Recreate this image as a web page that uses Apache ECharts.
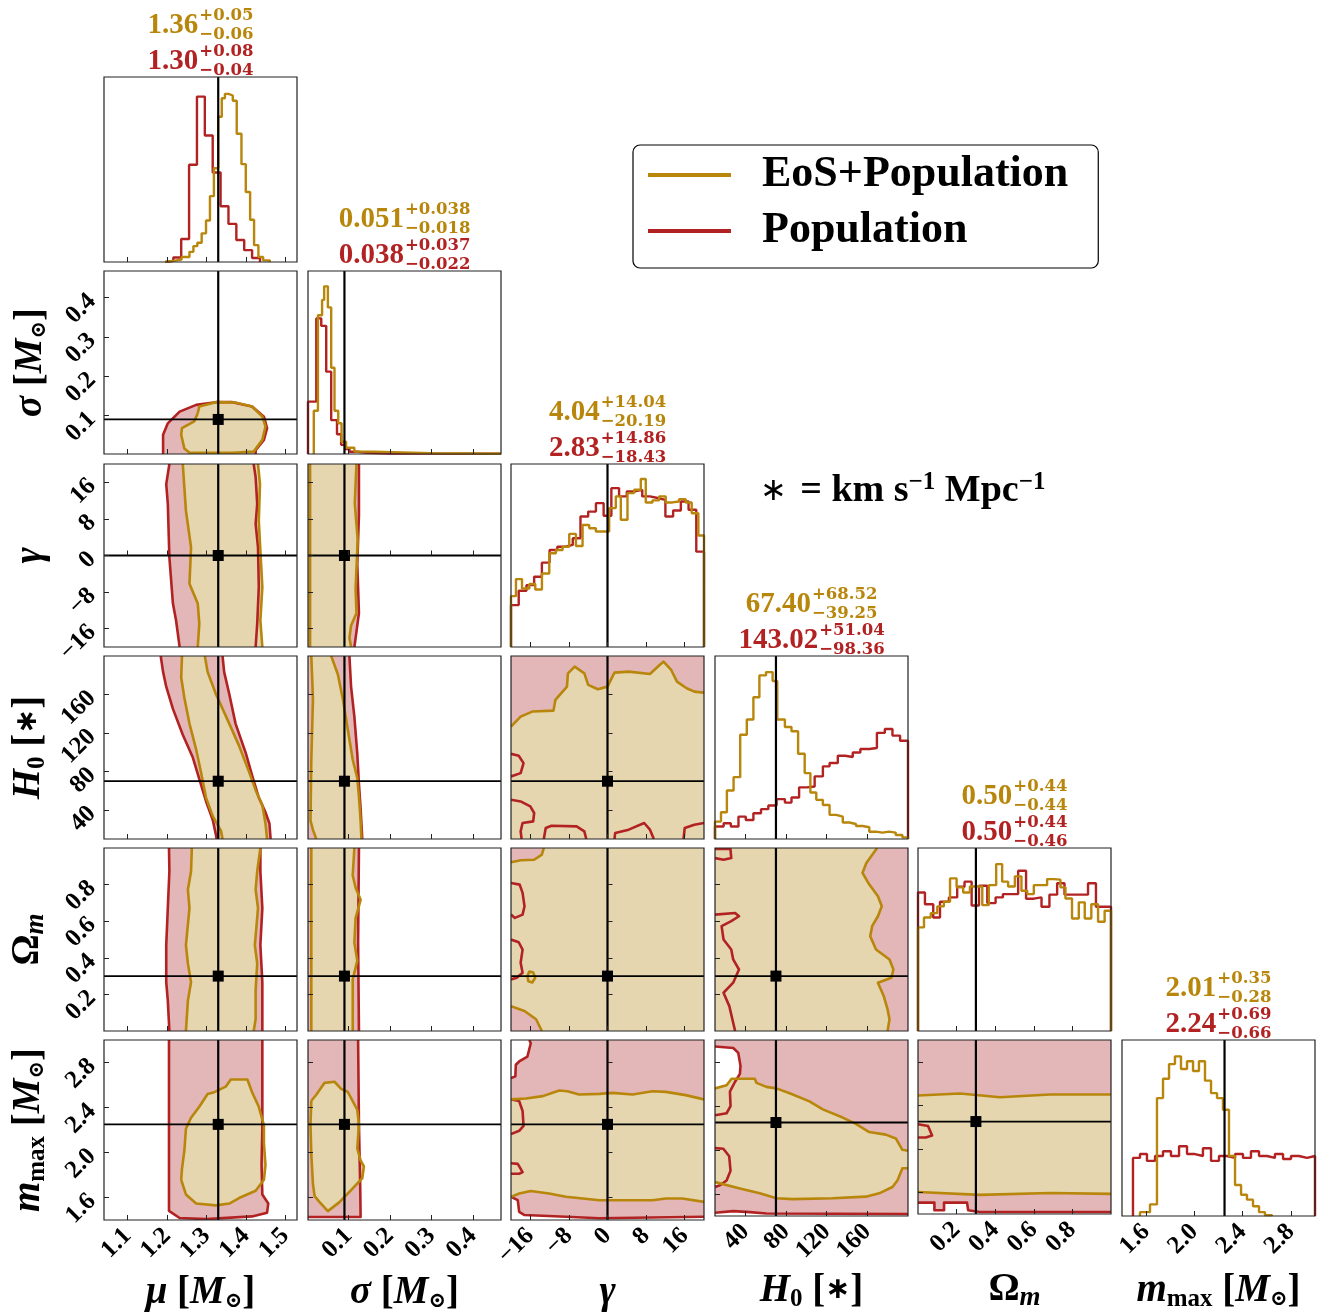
<!DOCTYPE html>
<html><head><meta charset="utf-8">
<script src="https://cdn.jsdelivr.net/npm/echarts@6/dist/echarts.min.js"></script>
<style>html,body{margin:0;padding:0;background:#fff}#c{width:1320px;height:1313px}</style>
</head><body><div id="c"></div>
<script>
// ---------------- DATA ----------------
const paramKeys = ['mu','sigma','gamma','H0','Om','mmax'];
const rangeMu = [1.04, 1.53], rangeSigma = [0.002, 0.468], rangeGamma = [-20, 20],
      rangeH0 = [10, 200], rangeOm = [0, 1], rangeMmax = [1.4, 3.0];
const truthValues = [1.33, 0.09, 0, 70, 0.3, 2.25];
const ticksMu = [1.1, 1.2, 1.3, 1.4, 1.5];
const ticksSigma = [0.1, 0.2, 0.3, 0.4];
const ticksGamma = [-16, -8, 0, 8, 16];
const ticksH0 = [40, 80, 120, 160];
const ticksOm = [0.2, 0.4, 0.6, 0.8];
const ticksMmax = [1.6, 2.0, 2.4, 2.8];

const seriesNames = ['EoS+Population', 'Population'];
const titleMedGold = ['1.36','0.051','4.04','67.40','0.50','2.01'];
const titleUpGold  = ['+0.05','+0.038','+14.04','+68.52','+0.44','+0.35'];
const titleLoGold  = ['\u22120.06','\u22120.018','\u221220.19','\u221239.25','\u22120.44','\u22120.28'];
const titleMedRed  = ['1.30','0.038','2.83','143.02','0.50','2.24'];
const titleUpRed   = ['+0.08','+0.037','+14.86','+51.04','+0.44','+0.69'];
const titleLoRed   = ['\u22120.04','\u22120.022','\u221218.43','\u221298.36','\u22120.46','\u22120.66'];

// 1D histograms: bin edges + heights (fraction of panel height)
const histMuRedEdges = [1.196,1.216,1.236,1.256,1.276,1.296,1.316,1.336,1.356,1.376,1.396,1.416,1.436];
const histMuRedH = [0.006,0.024,0.124,0.526,0.894,0.684,0.484,0.301,0.206,0.119,0.064,0.022];
const histMuGoldEdges = [1.195,1.216,1.237,1.257,1.267,1.277,1.288,1.299,1.309,1.319,1.330,1.339,1.347,1.356,1.367,1.377,1.389,1.400,1.411,1.421,1.432,1.444,1.461];
const histMuGoldH = [0.006,0.013,0.027,0.055,0.086,0.104,0.155,0.224,0.356,0.507,0.785,0.885,0.909,0.900,0.872,0.693,0.529,0.378,0.228,0.091,0.027,0.009];

const histSigmaRedEdges = [0.002,0.022,0.034,0.046,0.058,0.072,0.082,0.092,0.102,0.122,0.145,0.2,0.3,0.468];
const histSigmaRedH = [0.286,0.741,0.70,0.45,0.185,0.108,0.05,0.027,0.012,0.006,0.003,0.002,0.001];
const histSigmaGoldEdges = [0.016,0.026,0.036,0.041,0.050,0.058,0.066,0.075,0.083,0.094,0.114,0.16,0.3,0.468];
const histSigmaGoldH = [0.236,0.758,0.842,0.916,0.801,0.471,0.236,0.168,0.067,0.034,0.013,0.005,0.001];

const histGammaRedEdges = [-20,-18.4,-16.8,-15.2,-13.6,-12,-10.4,-8.8,-7.2,-5.6,-4,-2.4,-0.8,0.8,2.4,4,5.6,7.2,8.8,10.4,12,13.6,15.2,16.8,18.4,20];
const histGammaRedH = [0.229,0.307,0.338,0.384,0.461,0.530,0.548,0.558,0.594,0.713,0.740,0.786,0.717,0.868,0.823,0.850,0.859,0.823,0.814,0.804,0.713,0.746,0.795,0.750,0.521];
const histGammaGoldEdges = [-20,-18.97,-17.72,-16.2,-14.97,-13.59,-12.07,-10.69,-9.31,-7.93,-6.55,-5.17,-3.79,-2.41,-1.03,0.34,1.72,2.76,4.14,5.52,6.9,7.93,9.31,10.69,12.07,13.45,14.83,16.21,17.45,18.83,20];
const histGammaGoldH = [0.278,0.371,0.32,0.344,0.314,0.402,0.512,0.530,0.548,0.618,0.552,0.667,0.649,0.631,0.631,0.759,0.823,0.695,0.841,0.859,0.918,0.790,0.801,0.823,0.790,0.795,0.808,0.790,0.731,0.609];

const histH0RedEdges = [10,18.5,25.6,33.1,40.3,47.8,55.3,62.5,70.6,78.8,85.3,92.8,100.6,108.1,116.2,122.8,130.9,138.1,145.6,153.1,161.9,169.4,177.2,184.7,192.2,200];
const histH0RedH = [0.068,0.086,0.068,0.122,0.104,0.141,0.163,0.183,0.218,0.199,0.227,0.282,0.287,0.342,0.397,0.415,0.455,0.448,0.473,0.492,0.497,0.580,0.601,0.565,0.537];
const histH0GoldEdges = [10,15.9,21.7,28.3,34.8,41.3,47.8,53.7,60.2,66.7,71.3,78.8,85.3,91.8,98.3,103.9,109.7,116.2,122.8,129.3,135.8,142.3,148.8,155.4,161.9,168.4,174.9,181.4,187.9,194.5,200];
const histH0GoldH = [0.095,0.146,0.265,0.338,0.570,0.653,0.775,0.894,0.912,0.863,0.653,0.612,0.589,0.466,0.360,0.254,0.214,0.186,0.132,0.122,0.090,0.082,0.071,0.064,0.040,0.035,0.040,0.035,0.022,0.009];

const histOmRedEdges = [0,0.036,0.079,0.114,0.160,0.203,0.241,0.278,0.316,0.359,0.402,0.440,0.479,0.519,0.560,0.6,0.640,0.681,0.721,0.759,0.798,0.841,0.881,0.922,0.962,1];
const histOmRedH = [0.757,0.693,0.620,0.706,0.730,0.788,0.816,0.686,0.794,0.699,0.730,0.748,0.748,0.876,0.723,0.730,0.679,0.745,0.807,0.745,0.745,0.745,0.807,0.679,0.679];
const histOmGoldEdges = [0,0.031,0.066,0.1,0.134,0.166,0.2,0.234,0.269,0.303,0.333,0.367,0.405,0.436,0.467,0.502,0.536,0.566,0.6,0.634,0.669,0.703,0.738,0.764,0.798,0.833,0.864,0.898,0.933,0.967,1];
const histOmGoldH = [0.566,0.620,0.644,0.681,0.706,0.834,0.785,0.757,0.790,0.790,0.688,0.797,0.912,0.816,0.790,0.845,0.766,0.748,0.797,0.797,0.830,0.827,0.785,0.724,0.615,0.703,0.615,0.693,0.597,0.657];

const histMmaxRedEdges = [1.491,1.549,1.607,1.674,1.740,1.806,1.873,1.939,2.005,2.071,2.138,2.204,2.270,2.337,2.403,2.469,2.536,2.602,2.668,2.735,2.801,2.867,2.934,3.0];
const histMmaxRedH = [0.33,0.352,0.313,0.341,0.368,0.341,0.396,0.352,0.341,0.385,0.313,0.341,0.330,0.352,0.330,0.368,0.341,0.330,0.352,0.324,0.341,0.330,0.341];
const histMmaxGoldEdges = [1.549,1.632,1.690,1.740,1.790,1.839,1.889,1.939,1.989,2.038,2.088,2.138,2.188,2.237,2.287,2.337,2.387,2.436,2.486,2.536,2.585,2.643];
const histMmaxGoldH = [0.022,0.066,0.670,0.780,0.863,0.907,0.835,0.879,0.824,0.879,0.769,0.698,0.670,0.604,0.341,0.176,0.121,0.093,0.055,0.022,0.005];

// 2D credible regions (data coordinates)
const c10Red = [[1.19,0.002],[1.19,0.051],[1.202,0.080],[1.232,0.110],[1.274,0.127],[1.324,0.134],[1.366,0.134],[1.416,0.123],[1.446,0.097],[1.454,0.068],[1.446,0.038],[1.425,0.012],[1.425,0.002]];
const c10Gold = [[1.278,0.106],[1.282,0.123],[1.324,0.134],[1.374,0.133],[1.416,0.123],[1.442,0.097],[1.450,0.072],[1.442,0.038],[1.420,0.008],[1.366,0.005],[1.257,0.005],[1.244,0.016],[1.236,0.051],[1.238,0.068],[1.269,0.085]];

const c20Red = [[1.206,20],[1.198,15.6],[1.202,11.3],[1.206,-0.4],[1.215,-10.5],[1.223,-14.2],[1.232,-20],[1.425,-20],[1.429,-14.9],[1.433,-6.9],[1.431,1.8],[1.425,6.9],[1.429,11.3],[1.425,17.1],[1.420,20]];
const c20Gold = [[1.240,20],[1.244,14.9],[1.248,9.8],[1.261,1.8],[1.257,-6.2],[1.278,-10.5],[1.282,-14.9],[1.278,-20],[1.442,-20],[1.437,-14.2],[1.442,-6.9],[1.437,1.1],[1.433,7.6],[1.436,15.6],[1.431,20]];

const c30Red = [[1.184,200],[1.190,183.5],[1.198,168.1],[1.215,145.1],[1.240,118.2],[1.265,95.2],[1.282,72.2],[1.299,49.2],[1.316,30.0],[1.324,14.6],[1.326,10],[1.463,10],[1.460,26.1],[1.450,37.7],[1.433,53.0],[1.416,76.0],[1.400,99.1],[1.374,129.8],[1.358,160.5],[1.345,183.5],[1.341,200]];
const c30Gold = [[1.238,200],[1.236,177.7],[1.244,156.6],[1.257,129.8],[1.274,102.9],[1.286,79.9],[1.299,53.0],[1.316,33.8],[1.337,18.5],[1.341,10],[1.454,10],[1.450,26.1],[1.442,45.3],[1.425,60.7],[1.408,79.9],[1.383,106.7],[1.358,129.8],[1.324,160.5],[1.303,183.5],[1.296,200]];

const c40Red = [[1.205,1],[1.206,0.873],[1.202,0.671],[1.198,0.469],[1.198,0.267],[1.202,0.166],[1.206,0],[1.442,0],[1.442,0.267],[1.437,0.469],[1.442,0.671],[1.437,0.873],[1.437,1]];
const c40Gold = [[1.263,1],[1.261,0.873],[1.253,0.772],[1.257,0.671],[1.248,0.469],[1.253,0.368],[1.261,0.267],[1.253,0.166],[1.248,0],[1.420,0],[1.425,0.065],[1.425,0.226],[1.429,0.368],[1.423,0.469],[1.431,0.671],[1.425,0.772],[1.429,0.873],[1.437,1]];

const c50Red = [[1.205,3.0],[1.205,1.481],[1.232,1.418],[1.30,1.408],[1.416,1.432],[1.454,1.465],[1.457,1.546],[1.442,1.627],[1.440,1.887],[1.442,2.211],[1.442,3.0]];
const c50Gold = [[1.236,1.757],[1.238,1.854],[1.244,2.017],[1.248,2.211],[1.261,2.309],[1.282,2.406],[1.303,2.520],[1.320,2.536],[1.349,2.585],[1.362,2.649],[1.404,2.649],[1.416,2.536],[1.433,2.406],[1.446,2.244],[1.446,2.082],[1.450,1.887],[1.446,1.757],[1.425,1.660],[1.383,1.595],[1.358,1.546],[1.324,1.530],[1.274,1.546],[1.248,1.627]];

const c21Red = [[0.002,20],[0.125,20],[0.125,8.8],[0.121,-1.9],[0.125,-12.6],[0.117,-18],[0.114,-20],[0.002,-20]];
const c21Gold = [[0.007,20],[0.119,20],[0.115,11.4],[0.122,3.4],[0.117,-7.3],[0.119,-12.6],[0.106,-15.3],[0.102,-18],[0.106,-20],[0.007,-20]];

const c31Red = [[0.002,200],[0.102,200],[0.106,168.3],[0.114,136.7],[0.121,98.7],[0.125,67],[0.129,41.7],[0.133,10],[0.002,10]];
const c31Gold = [[0.010,200],[0.058,200],[0.074,181],[0.086,155.7],[0.098,124],[0.110,92.3],[0.121,73.3],[0.125,54.3],[0.129,29],[0.131,10],[0.022,10],[0.014,19.5],[0.008,29],[0.010,92.3],[0.014,155.7]];

const c41Red = [[0.002,1],[0.125,1],[0.123,0.483],[0.125,0],[0.002,0]];
const c41Gold = [[0.010,1],[0.114,1],[0.110,0.85],[0.117,0.783],[0.129,0.717],[0.117,0.617],[0.114,0.483],[0.121,0.383],[0.110,0.283],[0.110,0],[0.010,0]];

const c51Red = [[0.002,3.0],[0.123,3.0],[0.125,2.248],[0.128,1.718],[0.129,1.427],[0.002,1.427]];
const c51Gold = [[0.010,2.460],[0.022,2.513],[0.042,2.619],[0.066,2.629],[0.082,2.566],[0.098,2.539],[0.121,2.380],[0.125,2.248],[0.121,2.036],[0.129,1.930],[0.137,1.877],[0.133,1.771],[0.106,1.665],[0.078,1.559],[0.050,1.479],[0.030,1.559],[0.018,1.612],[0.014,1.718],[0.010,1.983],[0.008,2.248]];

const c32Red = [[-20,10],[20,10],[20,200],[-20,200]];
const c32RedHoles = [
  [[-20,98.4],[-18.4,96.4],[-17.4,88.8],[-18,78.4],[-20,74.9]],
  [[-20,50.8],[-18,49],[-16,43.9],[-15.2,37],[-15.4,28.3],[-17.6,26.6],[-18,17.9],[-17.8,10],[-20,10]],
  [[-13.2,10],[-12.8,21.4],[-11.6,23.8],[-6.4,23.1],[-4.8,17.9],[-4.4,10]],
  [[1.44,10],[1.6,16.2],[4.4,19.7],[7.6,26.6],[8.8,19.7],[9.6,10]],
  [[15.76,10],[16,21.4],[18,24.8],[20,26.6],[20,10]]
];
const c32Gold = [[-20,10],[-20,126.8],[-18,137.1],[-15.6,142.3],[-11.2,143.3],[-10.8,154.4],[-8.4,168.2],[-8.2,182],[-6.8,188.9],[-4.8,182],[-4,170],[-2,165.5],[0,168.2],[1.44,182.7],[4.4,183.8],[8.8,181.3],[10.8,190.7],[11.6,194.1],[13.2,185.5],[14.4,173.4],[16.4,166.5],[18,163],[20,162],[20,10]];

const c42Red = [[-20,0],[20,0],[20,1],[-20,1]];
const c42RedHoles = [
  [[-20,0.809],[-18.2,0.8],[-17.6,0.755],[-17.2,0.682],[-17.6,0.636],[-19.2,0.618],[-20,0.636]],
  [[-20,0.5],[-18.4,0.485],[-17.6,0.445],[-18,0.373],[-17.6,0.318],[-18.8,0.291],[-20,0.282]]
];
const c42Gold = [[-20,0.922],[-18,0.933],[-15.2,0.936],[-13.6,0.964],[-13.2,1],[20,1],[20,0],[-13.6,0],[-14.8,0.064],[-17.2,0.109],[-20,0.136]];
const c42GoldRing = [[-16.6,0.30],[-16.2,0.325],[-15.4,0.32],[-15.0,0.29],[-15.6,0.265],[-16.4,0.272]];

const c52Red = [[-20,1.4],[20,1.4],[20,3.0],[-20,3.0]];
const c52RedHoles = [
  [[-20,3.0],[-16.2,3.0],[-15.9,2.971],[-16.6,2.853],[-18.3,2.809],[-19,2.780],[-19.1,2.677],[-20,2.662]],
  [[-20,1.606],[-18.6,1.576],[-18.3,1.473],[-17.2,1.444],[-8.6,1.429],[-1.7,1.415],[20,1.429],[20,1.4],[-20,1.4]],
  [[-20,2.472],[-18.3,2.457],[-17.6,2.369],[-17.4,2.237],[-18.3,2.193],[-20,2.163]],
  [[-20,1.905],[-18.6,1.899],[-17.6,1.826],[-18.3,1.811],[-20,1.811]]
];
const c52Gold = [[-20,2.472],[-16.9,2.480],[-13.4,2.501],[-10,2.551],[-8.3,2.545],[-5.9,2.516],[-1.7,2.521],[1,2.530],[5.2,2.516],[9.3,2.545],[12.1,2.539],[16.2,2.510],[20,2.472],[20,1.561],[15.5,1.591],[12.1,1.591],[9.3,1.576],[5.2,1.576],[-1.7,1.576],[-8.6,1.606],[-12.1,1.635],[-15.9,1.658],[-18.3,1.635],[-20,1.606]];

const c43Red = [[10,0],[200,0],[200,1],[10,1]];
const c43RedHoles = [
  [[10,0.636],[29.8,0.645],[33.6,0.627],[26,0.6],[16.5,0.573],[18.4,0.5],[26,0.445],[27.9,0.391],[33.6,0.336],[27.9,0.264],[18.4,0.209],[24.1,0.136],[29.8,0],[10,0]],
  [[10,0.995],[25.2,0.995],[26,0.945],[18.4,0.936],[10,0.945]]
];
const c43Gold = [[10,1],[169.6,1],[159,0.918],[155.2,0.864],[160.9,0.809],[170.4,0.736],[174.2,0.682],[170.4,0.627],[164.7,0.573],[162.8,0.518],[168.5,0.445],[181.8,0.391],[185.6,0.336],[183.7,0.291],[170.4,0.264],[176.1,0.191],[179.9,0.118],[181.8,0.064],[179.9,0],[10,0]];

const c53Red = [[10,1.4],[200,1.4],[200,3.0],[10,3.0]];
const c53RedHoles = [
  [[10,2.941],[28,2.927],[32.9,2.883],[35.1,2.765],[34.5,2.692],[29.6,2.618],[24.7,2.530],[25.3,2.398],[21.4,2.334],[10,2.316]],
  [[10,2.017],[18.2,2.011],[24,1.943],[25.3,1.811],[21.4,1.723],[14.9,1.679],[10,1.664]],
  [[10,1.429],[28,1.444],[44.3,1.435],[60.6,1.423],[200,1.418],[200,1.4],[10,1.4]]
];
const c53Gold = [[10,2.560],[21.4,2.589],[26.3,2.648],[49.2,2.648],[50.8,2.610],[60.6,2.574],[70.4,2.560],[83.5,2.516],[103,2.442],[116.1,2.369],[135.7,2.295],[148.7,2.237],[161.8,2.163],[178.1,2.140],[188,2.105],[194.5,2.002],[200,1.993],[200,1.834],[194.5,1.834],[189.6,1.723],[184.7,1.664],[171.6,1.606],[158.5,1.576],[125.9,1.561],[86.7,1.553],[70.4,1.561],[54.1,1.606],[34.5,1.650],[10,1.708]];

const c54Red = [[0,1.4],[1,1.4],[1,3.0],[0,3.0]];
const c54RedHoles = [
  [[0,1.505],[0.085,1.505],[0.085,1.435],[0.135,1.435],[0.135,1.505],[0.254,1.505],[0.26,1.435],[0.32,1.418],[1,1.418],[1,1.4],[0,1.4]],
  [[0,2.226],[0.052,2.209],[0.073,2.121],[0.04,2.103],[0,2.103]]
];
const c54Gold = [[0,2.490],[0.218,2.508],[0.425,2.473],[0.684,2.499],[1,2.499],[1,1.585],[0.684,1.593],[0.321,1.576],[0,1.602]];

// ---------------- STYLE / LAYOUT ----------------
const GOLD = '#B8860B', RED = '#B22222', PINK = '#E3B6B7', BEIGE = '#E5D6AF';
const FONT = 'Liberation Serif';
const panelLeft = [104, 308, 511, 715, 918, 1122];
const panelTop = [77, 271, 464, 656, 848, 1040];
const panelH = [185, 183, 183, 183, 183, 182];
const panelW = 193;
const TICKFS = 25, NAMEFS = 39;

const ranges = [rangeMu, rangeSigma, rangeGamma, rangeH0, rangeOm, rangeMmax];
const ticks = [ticksMu, ticksSigma, ticksGamma, ticksH0, ticksOm, ticksMmax];
const minus = s => String(s).replace('-', '\u2212');
const fmts = [v => v.toFixed(1), v => v.toFixed(1), v => minus(Math.round(v)), v => String(Math.round(v)), v => v.toFixed(1), v => v.toFixed(1)];
const axisNames = [
  '{bi|\u03bc} {n|[}{bi|M}{sym|\u2299}{n|]}',
  '{bi|\u03c3} {n|[}{bi|M}{sym|\u2299}{n|]}',
  '{bi|\u03b3}',
  '{bi|H}{sub|0} {n|[}{ast|\u2217}{n|]}',
  '{n|\u03a9}{subi|m}',
  '{bi|m}{sub|max} {n|[}{bi|M}{sym|\u2299}{n|]}'
];
const nameRich = {
  bi: {fontFamily: FONT, fontStyle: 'italic', fontWeight: 'bold', fontSize: NAMEFS, color: '#000'},
  n: {fontFamily: FONT, fontWeight: 'bold', fontSize: NAMEFS, color: '#000'},
  sub: {fontFamily: FONT, fontWeight: 'bold', fontSize: 25, color: '#000', padding: [18, 0, 0, 0]},
  subi: {fontFamily: FONT, fontStyle: 'italic', fontWeight: 'bold', fontSize: 27, color: '#000', padding: [18, 0, 0, 0]},
  sym: {fontFamily: 'DejaVu Serif', fontWeight: 'bold', fontSize: 21, color: '#000', padding: [18, 0, 0, 0]},
  ast: {fontFamily: 'DejaVu Sans', fontSize: 30, color: '#000'}
};

const hists = [
  [histMuGoldEdges, histMuGoldH, histMuRedEdges, histMuRedH],
  [histSigmaGoldEdges, histSigmaGoldH, histSigmaRedEdges, histSigmaRedH],
  [histGammaGoldEdges, histGammaGoldH, histGammaRedEdges, histGammaRedH],
  [histH0GoldEdges, histH0GoldH, histH0RedEdges, histH0RedH],
  [histOmGoldEdges, histOmGoldH, histOmRedEdges, histOmRedH],
  [histMmaxGoldEdges, histMmaxGoldH, histMmaxRedEdges, histMmaxRedH]
];
const panels2d = {
  '1,0': {red: [c10Red], holes: [], gold: [c10Gold], rings: []},
  '2,0': {red: [c20Red], holes: [], gold: [c20Gold], rings: []},
  '3,0': {red: [c30Red], holes: [], gold: [c30Gold], rings: []},
  '4,0': {red: [c40Red], holes: [], gold: [c40Gold], rings: []},
  '5,0': {red: [c50Red], holes: [], gold: [c50Gold], rings: []},
  '2,1': {red: [c21Red], holes: [], gold: [c21Gold], rings: []},
  '3,1': {red: [c31Red], holes: [], gold: [c31Gold], rings: []},
  '4,1': {red: [c41Red], holes: [], gold: [c41Gold], rings: []},
  '5,1': {red: [c51Red], holes: [], gold: [c51Gold], rings: []},
  '3,2': {red: [c32Red], holes: c32RedHoles, gold: [c32Gold], rings: []},
  '4,2': {red: [c42Red], holes: c42RedHoles, gold: [c42Gold], rings: [c42GoldRing]},
  '5,2': {red: [c52Red], holes: c52RedHoles, gold: [c52Gold], rings: []},
  '4,3': {red: [c43Red], holes: c43RedHoles, gold: [c43Gold], rings: []},
  '5,3': {red: [c53Red], holes: c53RedHoles, gold: [c53Gold], rings: []},
  '5,4': {red: [c54Red], holes: c54RedHoles, gold: [c54Gold], rings: []}
};

// ---------------- HELPERS ----------------
function stepPoints(edges, h) {
  const pts = [[edges[0], 0]];
  for (let i = 0; i < h.length; i++) { pts.push([edges[i], h[i]]); pts.push([edges[i + 1], h[i]]); }
  pts.push([edges[edges.length - 1], 0]);
  return pts;
}
// split a closed polygon into open strokes, skipping segments lying on the panel border
function openPaths(poly, xr, yr) {
  const n = poly.length;
  const tx = Math.abs(xr[1] - xr[0]) * 1e-6, ty = Math.abs(yr[1] - yr[0]) * 1e-6;
  const on = (a, b, k, v, t) => Math.abs(a[k] - v) < t && Math.abs(b[k] - v) < t;
  const border = (a, b) => on(a, b, 0, xr[0], tx) || on(a, b, 0, xr[1], tx) || on(a, b, 1, yr[0], ty) || on(a, b, 1, yr[1], ty);
  let start = 0;
  for (let i = 0; i < n; i++) { if (border(poly[(i - 1 + n) % n], poly[i])) { start = i; break; } }
  const paths = []; let cur = [poly[start]];
  for (let k = 1; k <= n; k++) {
    const a = poly[(start + k - 1) % n], b = poly[(start + k) % n];
    if (border(a, b)) { if (cur.length > 1) paths.push(cur); cur = [b]; }
    else cur.push(b);
  }
  if (cur.length > 1) paths.push(cur);
  return paths;
}

// ---------------- BUILD ----------------
const grids = [], xAxes = [], yAxes = [], series = [];
let gi = 0;
for (let r = 0; r < 6; r++) {
  for (let c = 0; c <= r; c++) {
    const diag = r === c;
    grids.push({left: panelLeft[c], top: panelTop[r], width: panelW, height: panelH[r], containLabel: false});
    xAxes.push({
      gridIndex: gi, type: 'value', min: ranges[c][0], max: ranges[c][1], z: 10,
      axisLine: {show: false}, splitLine: {show: false},
      axisTick: {show: true, inside: true, length: 5, customValues: ticks[c], lineStyle: {color: '#222', width: 1}},
      axisLabel: {show: r === 5, customValues: ticks[c], rotate: 45, margin: 12, formatter: fmts[c],
        fontFamily: FONT, fontWeight: 'bold', fontSize: TICKFS, color: '#000'},
      name: r === 5 ? axisNames[c] : '', nameLocation: 'middle', nameGap: 53,
      nameTextStyle: {fontFamily: FONT, fontWeight: 'bold', fontSize: NAMEFS, color: '#000', rich: nameRich}
    });
    if (diag) {
      yAxes.push({gridIndex: gi, type: 'value', min: 0, max: 1, show: true, axisLine: {show: false},
        splitLine: {show: false}, axisTick: {show: false}, axisLabel: {show: false}});
    } else {
      yAxes.push({
        gridIndex: gi, type: 'value', min: ranges[r][0], max: ranges[r][1], z: 10,
        axisLine: {show: false}, splitLine: {show: false},
        axisTick: {show: true, inside: true, length: 5, customValues: ticks[r], lineStyle: {color: '#222', width: 1}},
        axisLabel: {show: c === 0, customValues: ticks[r], rotate: 45, margin: 12, formatter: fmts[r],
          fontFamily: FONT, fontWeight: 'bold', fontSize: TICKFS, color: '#000'},
        name: c === 0 ? axisNames[r] : '', nameLocation: 'middle', nameGap: 54, nameRotate: 90,
        nameTextStyle: {fontFamily: FONT, fontWeight: 'bold', fontSize: NAMEFS, color: '#000', rich: nameRich}
      });
    }
    if (diag) {
      const [ge, gh, re, rh] = hists[c];
      series.push({type: 'line', name: 'Population', xAxisIndex: gi, yAxisIndex: gi, data: stepPoints(re, rh),
        symbol: 'none', clip: true, z: 3, lineStyle: {color: RED, width: 2.4}, itemStyle: {color: RED}});
      series.push({type: 'line', name: 'EoS+Population', xAxisIndex: gi, yAxisIndex: gi, data: stepPoints(ge, gh),
        symbol: 'none', clip: true, z: 3, lineStyle: {color: GOLD, width: 2.4}, itemStyle: {color: GOLD}});
    } else {
      const p = panels2d[r + ',' + c];
      const xr = ranges[c], yr = ranges[r];
      series.push({
        type: 'custom', xAxisIndex: gi, yAxisIndex: gi, clip: true, z: 2, silent: true,
        data: [[xr[0], yr[0]]],
        renderItem: (params, api) => {
          const px = pts => pts.map(pt => api.coord(pt));
          const ch = [];
          p.red.forEach(poly => ch.push({type: 'polygon', shape: {points: px(poly)}, style: {fill: PINK}}));
          p.holes.forEach(poly => ch.push({type: 'polygon', shape: {points: px(poly)}, style: {fill: '#fff'}}));
          p.gold.forEach(poly => ch.push({type: 'polygon', shape: {points: px(poly)}, style: {fill: BEIGE}}));
          p.red.concat(p.holes).forEach(poly => openPaths(poly, xr, yr).forEach(seg =>
            ch.push({type: 'polyline', shape: {points: px(seg)}, style: {stroke: RED, lineWidth: 2.6, fill: 'none', lineJoin: 'round'}})));
          p.gold.concat(p.rings).forEach(poly => openPaths(poly, xr, yr).forEach(seg =>
            ch.push({type: 'polyline', shape: {points: px(seg)}, style: {stroke: GOLD, lineWidth: 2.6, fill: 'none', lineJoin: 'round'}})));
          return {type: 'group', children: ch};
        }
      });
    }
    // truth lines and marker
    series.push({
      type: 'custom', xAxisIndex: gi, yAxisIndex: gi, clip: true, z: 5, silent: true,
      data: [[truthValues[c], diag ? 0.5 : truthValues[r]]],
      renderItem: (params, api) => {
        const cs = params.coordSys;
        const pt = api.coord([api.value(0), api.value(1)]);
        const ch = [{type: 'line', shape: {x1: pt[0], y1: cs.y, x2: pt[0], y2: cs.y + cs.height}, style: {stroke: '#000', lineWidth: 2.2}}];
        if (!diag) {
          ch.push({type: 'line', shape: {x1: cs.x, y1: pt[1], x2: cs.x + cs.width, y2: pt[1]}, style: {stroke: '#000', lineWidth: 1.8}});
          ch.push({type: 'rect', shape: {x: pt[0] - 5.5, y: pt[1] - 5.5, width: 11, height: 11}, style: {fill: '#000'}});
        }
        return {type: 'group', children: ch};
      }
    });
    // panel frame
    series.push({
      type: 'custom', xAxisIndex: gi, yAxisIndex: gi, clip: false, z: 8, silent: true,
      data: [[ranges[c][0], diag ? 0 : ranges[r][0]]],
      renderItem: (params) => {
        const cs = params.coordSys;
        return {type: 'rect', shape: {x: cs.x, y: cs.y, width: cs.width, height: cs.height},
          style: {fill: 'none', stroke: '#222', lineWidth: 1.2}};
      }
    });
    gi++;
  }
}

// titles above the diagonal
const mctx = document.createElement('canvas').getContext('2d');
const tw = (t, f) => { mctx.font = f; return mctx.measureText(t).width; };
const mainFont = 'bold 29px "Liberation Serif"', scrFont = 'bold 16.5px "DejaVu Serif"';
const graphics = [];
for (let k = 0; k < 6; k++) {
  const cx = panelLeft[k] + panelW / 2;
  [[titleMedGold[k], titleUpGold[k], titleLoGold[k], GOLD, 51.5], [titleMedRed[k], titleUpRed[k], titleLoRed[k], RED, 15.5]].forEach(([m, u, l, col, off]) => {
    const mw = tw(m, mainFont), sw = Math.max(tw(u, scrFont), tw(l, scrFont));
    const x0 = cx - (mw + 1 + sw) / 2, y = panelTop[k] - off;
    graphics.push({type: 'text', z: 20, style: {text: m, x: x0, y: y, fill: col, font: mainFont, align: 'left', verticalAlign: 'middle'}});
    graphics.push({type: 'text', z: 20, style: {text: u, x: x0 + mw + 1, y: y - 9.5, fill: col, font: scrFont, align: 'left', verticalAlign: 'middle'}});
    graphics.push({type: 'text', z: 20, style: {text: l, x: x0 + mw + 1, y: y + 9, fill: col, font: scrFont, align: 'left', verticalAlign: 'middle'}});
  });
}
graphics.push({type: 'text', z: 20, left: 760, top: 470, style: {
  text: '{ast|\u2217}{n| = km s}{sup|\u22121}{n| Mpc}{sup|\u22121}',
  rich: {
    ast: {fontFamily: 'DejaVu Sans', fontSize: 32, fill: '#000', padding: [0, 4, 0, 0]},
    n: {fontFamily: FONT, fontWeight: 'bold', fontSize: 38, fill: '#000'},
    sup: {fontFamily: FONT, fontWeight: 'bold', fontSize: 25, fill: '#000', padding: [0, 0, 18, 0]}
  }
}});

const option = {
  animation: false,
  backgroundColor: '#fff',
  grid: grids, xAxis: xAxes, yAxis: yAxes, series: series,
  legend: {
    data: seriesNames, orient: 'vertical', left: 633, top: 145, selectedMode: false,
    icon: 'rect', itemWidth: 83, itemHeight: 4, itemGap: 6,
    padding: [5, 30, 12, 15], borderColor: '#000', borderWidth: 1.2, borderRadius: 7, backgroundColor: '#fff',
    textStyle: {fontFamily: FONT, fontWeight: 'bold', fontSize: 44, color: '#000', lineHeight: 50, padding: [0, 0, 0, 26]}
  },
  graphic: {elements: graphics}
};
const chart = echarts.init(document.getElementById('c'), null, {renderer: 'canvas'});
chart.setOption(option);
</script></body></html>
